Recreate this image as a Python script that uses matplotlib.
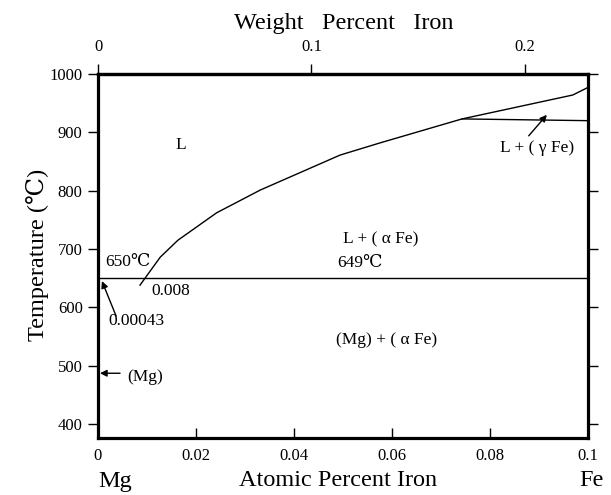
import matplotlib
matplotlib.use("Agg")
import matplotlib.pyplot as plt
import numpy as np

# ---- data (atomic percent Fe, temperature in C) ----
liquidus_x = [0.00857, 0.0127, 0.0163, 0.0242, 0.0331, 0.0494, 0.0576, 0.0743, 0.0969, 0.1]
liquidus_y = [638, 686, 715, 762, 801, 861, 882, 923, 964, 977]
gamma_x = [0.0743, 0.1]
gamma_y = [923, 920]
eutectic_x = [0.0, 0.1]
eutectic_y = [650, 650]

x_ticks = [0, 0.02, 0.04, 0.06, 0.08, 0.1]
x_ticklabels = ["0", "0.02", "0.04", "0.06", "0.08", "0.1"]
y_ticks = [400, 500, 600, 700, 800, 900, 1000]
wt_ticks = [0, 0.1, 0.2]
wt_ticklabels = ["0", "0.1", "0.2"]

M_FE, M_MG = 55.845, 24.305

def at2wt(a):
    a = np.asarray(a, dtype=float)
    return a * M_FE / (a * M_FE + (100 - a) * M_MG) * 100

def wt2at(w):
    w = np.asarray(w, dtype=float)
    return (w / M_FE) / (w / M_FE + (100 - w) / M_MG) * 100

plt.rcParams['font.family'] = ['Liberation Serif', 'DejaVu Serif']

fig = plt.figure(figsize=(6.11, 4.95), dpi=100)
ax = fig.add_axes([98/611, 1-438/495, 490/611, (438-74)/495])
ax.set_xlim(0, 0.1)
ax.set_ylim(376, 1000)

lc = 'black'
ax.plot(liquidus_x, liquidus_y, color=lc, lw=1.0)
ax.plot(gamma_x, gamma_y, color=lc, lw=1.0)
ax.plot(eutectic_x, eutectic_y, color=lc, lw=1.0)

for s in ax.spines.values():
    s.set_linewidth(2.3)

tfs = 12
ax.set_xticks(x_ticks)
ax.set_xticklabels(x_ticklabels, fontsize=tfs)
ax.set_yticks(y_ticks)
ax.set_yticklabels([str(v) for v in y_ticks], fontsize=tfs)
ax.tick_params(axis='x', direction='in', length=7, width=1.0, pad=7)
ax.tick_params(axis='y', direction='out', length=7, width=1.0, right=True, pad=4)

sec = ax.secondary_xaxis('top', functions=(at2wt, wt2at))
sec.set_xticks(wt_ticks)
sec.set_xticklabels(wt_ticklabels, fontsize=tfs)
sec.tick_params(direction='out', length=7, width=1.0, pad=7)
sec.spines['top'].set_linewidth(2.3)

fs = 12.5
ax.text(0.0169, 878, "L", ha='center', va='center', fontsize=fs)
ax.text(0.0576, 717, "L + ( α Fe)", ha='center', va='center', fontsize=fs)
ax.text(0.0535, 676, "649℃", ha='center', va='center', fontsize=fs)
ax.text(0.0061, 678, "650℃", ha='center', va='center', fontsize=fs)
ax.text(0.0149, 628, "0.008", ha='center', va='center', fontsize=fs)
ax.text(0.0079, 576, "0.00043", ha='center', va='center', fontsize=fs)
ax.text(0.0588, 544, "(Mg) + ( α Fe)", ha='center', va='center', fontsize=fs)
ax.text(0.0896, 873, "L + ( γ Fe)", ha='center', va='center', fontsize=fs)
ax.text(0.0096, 480, "(Mg)", ha='center', va='center', fontsize=fs)

arrow = dict(arrowstyle='-|>', color='black', lw=1.0, mutation_scale=10, shrinkA=0, shrinkB=0)
ax.annotate("", xy=(0.0916, 930), xytext=(0.0879, 894), arrowprops=arrow)
ax.annotate("", xy=(0.0008, 645), xytext=(0.0037, 585), arrowprops=arrow)
ax.annotate("", xy=(0.0004, 487), xytext=(0.0045, 487), arrowprops=arrow)

bfs = 17.5
fig.text(344/611, 1-24/495, "Weight   Percent   Iron", ha='center', va='center', fontsize=bfs)
fig.text(338/611, 1-481/495, "Atomic Percent Iron", ha='center', va='center', fontsize=bfs)
fig.text(115/611, 1-481/495, "Mg", ha='center', va='center', fontsize=bfs)
fig.text(591/611, 1-481/495, "Fe", ha='center', va='center', fontsize=bfs)
fig.text(38/611, 1-255/495, "Temperature (℃)", ha='center', va='center', fontsize=bfs, rotation=90)

fig.savefig("out.png", dpi=100)
